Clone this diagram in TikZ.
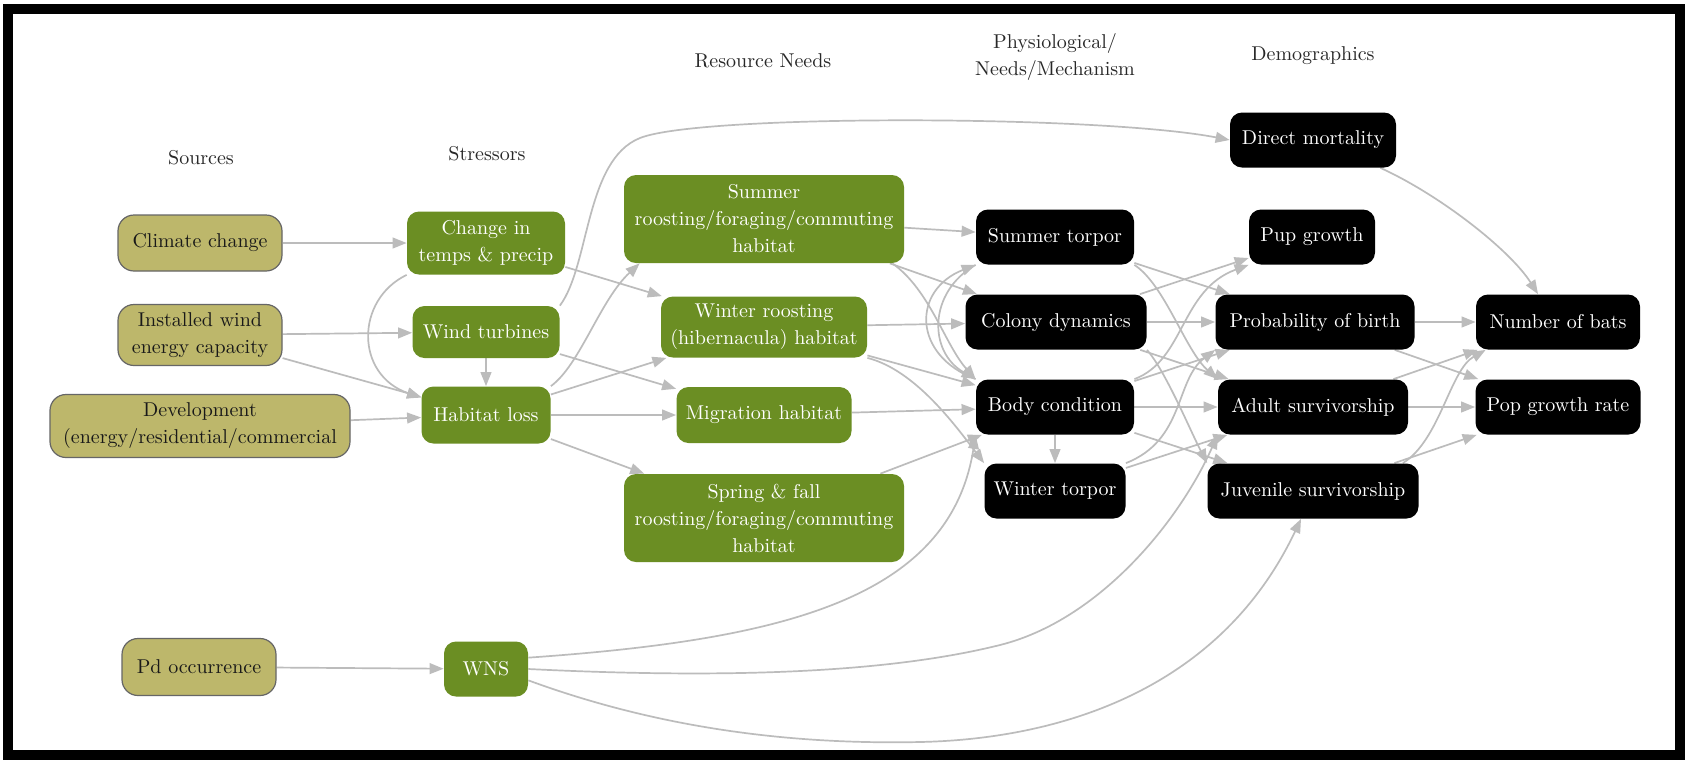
\documentclass[tikz,border=0pt]{standalone}
\usetikzlibrary{arrows.meta}
\definecolor{khakifill}{RGB}{189,183,107}
\definecolor{olivefill}{RGB}{107,142,35}
\definecolor{edgegray}{RGB}{188,188,188}
\definecolor{hdrgray}{RGB}{40,40,40}
\pgfdeclarelayer{edgelayer}
\pgfdeclarelayer{paper}
\pgfsetlayers{paper,edgelayer,main}
\begin{document}
\begin{tikzpicture}[x=0.5pt,y=-0.5pt,
  nodebase/.style={align=center, inner sep=2pt, font=\fontsize{10}{13.5}\selectfont},
  srcbox/.style={nodebase, draw=black!60, fill=khakifill, rounded corners=8pt, text=black!90, line width=0.6pt},
  grnbox/.style={nodebase, fill=olivefill, rounded corners=6pt, text=white},
  blkbox/.style={nodebase, fill=black, rounded corners=6pt, text=white},
  hdrtext/.style={font=\fontsize{10}{13.5}\selectfont, text=hdrgray, align=center},
  conn/.style={draw=edgegray, line width=0.85pt, -{Triangle[length=7pt,width=5.4pt]}},
]
\useasboundingbox (0,0) rectangle (1687,762);
\begin{pgfonlayer}{paper}
\fill[white] (0,0) rectangle (1687,762);
\draw[line width=5pt] (8,8.5) rectangle (1680,755);
\end{pgfonlayer}

% headers
\node[hdrtext] (hsrc) at (201,158) {Sources};
\node[hdrtext] (hstr) at (487,154) {Stressors};
\node[hdrtext] (hres) at (763,61) {Resource Needs};
\node[hdrtext] (hphy) at (1055,57) {Physiological/\\Needs/Mechanism};
\node[hdrtext] (hdem) at (1313,56) {Demographics};

% sources
\node[srcbox, minimum width=82pt, minimum height=28pt] (cc) at (200,243) {Climate change};
\node[srcbox, minimum width=82pt, minimum height=30.5pt] (iw) at (200,335) {Installed wind\\energy capacity};
\node[srcbox, minimum width=150pt, minimum height=31.5pt] (dev) at (200,426) {Development\\(energy/residential/commercial};
\node[srcbox, minimum width=77pt, minimum height=28.5pt] (pd) at (199,667) {Pd occurrence};

% stressors
\node[grnbox, minimum width=79pt, minimum height=31.5pt] (ct) at (486,243) {Change in\\temps \& precip};
\node[grnbox, minimum width=73.5pt, minimum height=26pt] (wt) at (486,332) {Wind turbines};
\node[grnbox, minimum width=64.5pt, minimum height=28.5pt] (hl) at (486,415) {Habitat loss};
\node[grnbox, minimum width=42pt, minimum height=27.5pt] (wns) at (486,669) {WNS};

% resource needs
\node[grnbox, minimum width=140pt, minimum height=44pt] (sr) at (764,219) {Summer\\roosting/foraging/commuting\\habitat};
\node[grnbox, minimum width=103pt, minimum height=30.5pt] (wr) at (764,327) {Winter roosting\\(hibernacula) habitat};
\node[grnbox, minimum width=87.5pt, minimum height=28pt] (mig) at (764,415) {Migration habitat};
\node[grnbox, minimum width=140pt, minimum height=44pt] (sf) at (764,518) {Spring \& fall\\roosting/foraging/commuting\\habitat};

% physiological
\node[blkbox, minimum width=79pt, minimum height=27.5pt] (st) at (1055,237) {Summer torpor};
\node[blkbox, minimum width=90.5pt, minimum height=27.5pt] (cd) at (1056,322) {Colony dynamics};
\node[blkbox, minimum width=79pt, minimum height=27.5pt] (bc) at (1055,407) {Body condition};
\node[blkbox, minimum width=70.5pt, minimum height=27.5pt] (wto) at (1055,491) {Winter torpor};

% demographics
\node[blkbox, minimum width=83pt, minimum height=27.5pt] (dm) at (1313,140) {Direct mortality};
\node[blkbox, minimum width=63pt, minimum height=27.5pt] (pg) at (1312,237) {Pup growth};
\node[blkbox, minimum width=99.5pt, minimum height=27.5pt] (pb) at (1315,322) {Probability of birth};
\node[blkbox, minimum width=95pt, minimum height=27.5pt] (ad) at (1313,407) {Adult survivorship};
\node[blkbox, minimum width=105.5pt, minimum height=27.5pt] (ju) at (1313,491) {Juvenile survivorship};

% population
\node[blkbox, minimum width=82pt, minimum height=27.5pt] (nb) at (1558,322) {Number of bats};
\node[blkbox, minimum width=82.5pt, minimum height=27.5pt] (pgr) at (1558,407) {Pop growth rate};

\begin{pgfonlayer}{edgelayer}
% sources -> stressors
\draw[conn] (cc) -- (ct);
\draw[conn] (iw) -- (wt);
\draw[conn] (iw) -- (hl);
\draw[conn] (dev) -- (hl);
\draw[conn] (pd) -- (wns);
% stressors
\draw[conn] (ct.south west) .. controls (355,300) and (355,375) .. (hl.165);
\draw[conn] (wt) -- (hl);
\draw[conn] (ct) -- (wr);
\draw[conn] (wt.north east) .. controls (590,265) and (585,160) .. (640,138) .. controls (700,114) and (1100,115) .. (dm.west);
\draw[conn] (wt) -- (mig);
\draw[conn] (hl.north east) .. controls (580,365) and (600,300) .. ([xshift=8pt]sr.south west);
\draw[conn] (hl) -- (wr);
\draw[conn] (hl) -- (mig);
\draw[conn] (hl) -- (sf);
% resource needs -> physiological
\draw[conn] (sr) -- (st);
\draw[conn] (sr) -- (cd);
\draw[conn] ([xshift=-6pt]sr.south east) .. controls (930,290) and (945,345) .. (bc.north west);
\draw[conn] (wr) -- (cd);
\draw[conn] (wr) -- (bc);
\draw[conn] (wr.south east) .. controls (915,370) and (955,425) .. (wto.north west);
\draw[conn] (mig) -- (bc);
\draw[conn] (sf) -- (bc);
% within physiological
\draw[conn] (bc.north west) .. controls (912,355) and (912,290) .. (st.south west);
\draw[conn] (st.south west) .. controls (928,292) and (928,352) .. (bc.north west);
\draw[conn] (bc) -- (wto);
% WNS
\draw[conn] (wns.15) .. controls (780,640) and (950,600) .. (bc.south west);
\draw[conn] (wns.east) .. controls (750,680) and (900,670) .. (1000,645) .. controls (1100,620) and (1180,520) .. (ad.south west);
\draw[conn] (wns.-15) .. controls (650,725) and (780,745) .. (920,742) .. controls (1060,739) and (1220,690) .. ([xshift=-6pt]ju.south);
% physiological -> demographics
\draw[conn] (st) -- (pb);
\draw[conn] (st.south east) .. controls (1165,285) and (1185,350) .. (ad.north west);
\draw[conn] (cd) -- (pg);
\draw[conn] (cd) -- (pb);
\draw[conn] (cd) -- (ad);
\draw[conn] (cd.south east) .. controls (1165,370) and (1190,430) .. (ju.north west);
\draw[conn] (bc.north east) .. controls (1185,360) and (1180,290) .. (pg.south west);
\draw[conn] (bc) -- (pb);
\draw[conn] (bc) -- (ad);
\draw[conn] (bc) -- (ju);
\draw[conn] (wto.north east) .. controls (1185,440) and (1175,380) .. (pb.south west);
\draw[conn] (wto) -- (ad);
% demographics -> population
\draw[conn] ([xshift=-8pt]dm.south east) .. controls (1440,195) and (1510,250) .. ([xshift=-10pt]nb.north);
\draw[conn] (pb) -- (nb);
\draw[conn] (pb) -- (pgr);
\draw[conn] (ad) -- (nb);
\draw[conn] (ad) -- (pgr);
\draw[conn] ([xshift=-8pt]ju.north east) .. controls (1440,440) and (1450,370) .. ([xshift=5pt]nb.south west);
\draw[conn] (ju) -- (pgr);
\end{pgfonlayer}
\end{tikzpicture}
\end{document}
